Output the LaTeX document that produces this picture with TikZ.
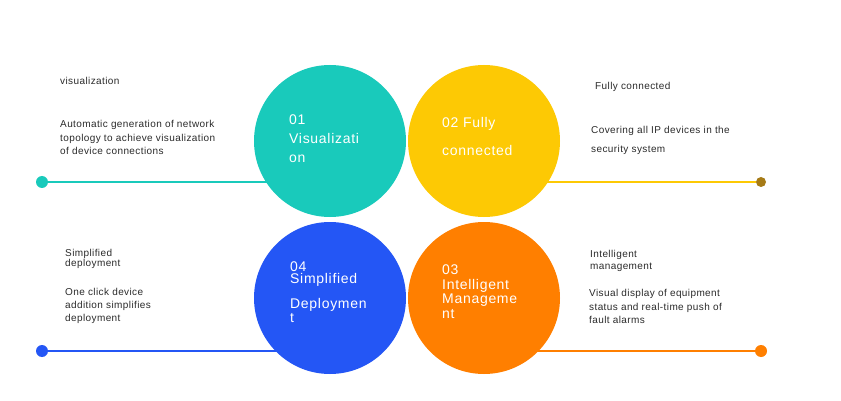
\documentclass[tikz,border=0pt]{standalone}
\usepackage{fontspec}
\setmainfont{Liberation Sans}
\newfontfamily\circfont[LetterSpace=5]{Liberation Sans}
\newfontfamily\sidefont[LetterSpace=4]{Liberation Sans}
\usetikzlibrary{backgrounds}
\definecolor{vTeal}{HTML}{19CABB}
\definecolor{vYellow}{HTML}{FDC904}
\definecolor{vBlue}{HTML}{2456F5}
\definecolor{vOrange}{HTML}{FF7F00}
\definecolor{vGold}{HTML}{A67B17}
\definecolor{textgray}{HTML}{2B2B2B}

\begin{document}
\begin{tikzpicture}[x=1pt, y=-1pt,
  bubble/.style={circle, minimum size=152pt, inner sep=0pt},
  bubtext/.style={anchor=north west, inner sep=0pt, align=left, text=white,
                  font=\circfont\fontsize{14}{#1}\selectfont},
  sidetext/.style={anchor=north west, inner sep=0pt, align=left, text=textgray,
                   font=\sidefont\fontsize{10}{#1}\selectfont},
  knob/.style={circle, inner sep=0pt, minimum size=#1},
  knob/.default=12pt,
  rail/.style={line width=2.6pt},
]
\useasboundingbox (0,0) rectangle (841,401);
% --- bubbles ---
\node[bubble, fill=vTeal]   (bubA) at (330,141) {};
\node[bubble, fill=vYellow] (bubB) at (484,141) {};
\node[bubble, fill=vBlue]   (bubD) at (330,298) {};
\node[bubble, fill=vOrange] (bubC) at (484,298) {};
\node[bubtext=19] (labA) at (289,115) {01\\Visualizati\\on};
\node[bubtext=28] (labB) at (442,116.7) {02 Fully\\connected};
\node[bubtext=12] (labD) at (290,262) {04\\Simplified\\[10.5pt]Deploymen\\[1.5pt]t};
\node[bubtext=14.5] (labC) at (442,265) {03\\Intelligent\\Manageme\\nt};
% --- end dots ---
\node[knob, fill=vTeal]       (dotA) at (42,182) {};
\node[knob=10pt, fill=vGold]  (dotB) at (761,182) {};
\node[knob, fill=vBlue]       (dotD) at (42,351) {};
\node[knob, fill=vOrange]     (dotC) at (761,351) {};
% --- side texts ---
\node[sidetext=13] (titA) at (60,76.8) {visualization};
\node[sidetext=13.2] (txtA) at (60,120.5) {Automatic generation of network\\topology to achieve visualization\\of device connections};
\node[sidetext=13] (titB) at (595,82.1) {Fully connected};
\node[sidetext=18.7] (txtB) at (591,126.1) {Covering all IP devices in the\\security system};
\node[sidetext=10.7] (titD) at (65,248.8) {Simplified\\deployment};
\node[sidetext=13] (txtD) at (65,288.5) {One click device\\addition simplifies\\deployment};
\node[sidetext=11.3] (titC) at (590,250.5) {Intelligent\\management};
\node[sidetext=13.3] (txtC) at (589,289.4) {Visual display of equipment\\status and real-time push of\\fault alarms};
% --- rails ---
\begin{scope}[on background layer]
\fill[white] (0,0) rectangle (841,401);
\draw[rail, draw=vTeal]   (dotA) -- (dotA -| bubA);
\draw[rail, line width=2pt, draw=vYellow] (dotB) -- (dotB -| bubB);
\draw[rail, draw=vBlue]   (dotD) -- (dotD -| bubD);
\draw[rail, line width=2.2pt, draw=vOrange] (dotC) -- (dotC -| bubC);
\end{scope}
\end{tikzpicture}
\end{document}
